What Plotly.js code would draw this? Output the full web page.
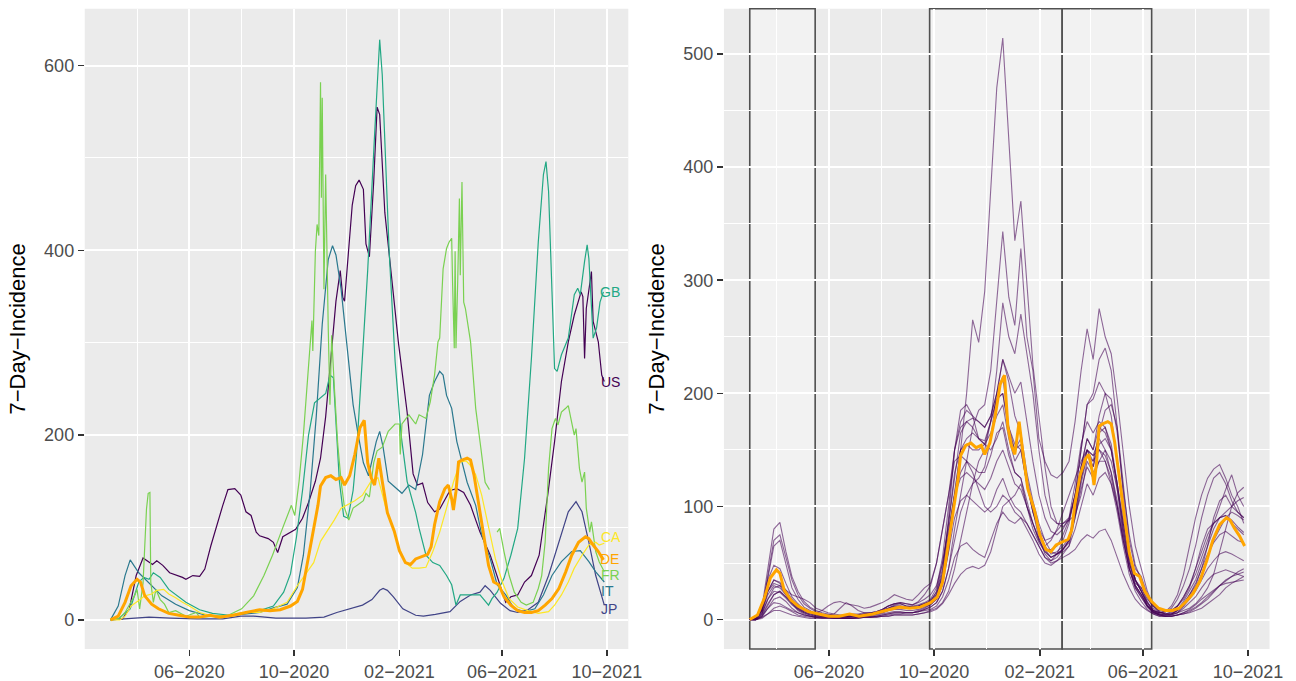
<!DOCTYPE html>
<html>
<head>
<meta charset="utf-8">
<script src="https://cdn.plot.ly/plotly-3.0.1.min.js"></script>
<style>html,body{margin:0;padding:0;background:#fff;}#chart{width:1296px;height:681px;}</style>
</head>
<body>
<div id="chart"></div>
<script>
// ---------- Left panel: G7 countries, [date, 7-day incidence] ----------
const usSeries = [['2020-03-01',0],['2020-03-15',1],['2020-03-23',12],['2020-03-31',48],['2020-04-08',67],['2020-04-13',64],['2020-04-19',60],['2020-04-24',64],['2020-05-01',59],['2020-05-09',51],['2020-05-16',49],['2020-05-24',46],['2020-05-28',44],['2020-06-05',48],['2020-06-13',47],['2020-06-19',55],['2020-06-26',80],['2020-07-04',106],['2020-07-10',124],['2020-07-16',141],['2020-07-24',142],['2020-07-31',135],['2020-08-06',117],['2020-08-12',113],['2020-08-18',95],['2020-08-22',91],['2020-09-01',88],['2020-09-07',84],['2020-09-12',73],['2020-09-18',90],['2020-09-24',93],['2020-10-03',98],['2020-10-11',110],['2020-10-18',127],['2020-10-26',150],['2020-11-01',175],['2020-11-07',220],['2020-11-13',283],['2020-11-19',345],['2020-11-24',378],['2020-11-27',349],['2020-11-29',345],['2020-12-03',391],['2020-12-08',449],['2020-12-12',470],['2020-12-16',476],['2020-12-21',466],['2020-12-24',407],['2020-12-28',393],['2021-01-02',474],['2021-01-06',555],['2021-01-09',547],['2021-01-15',441],['2021-01-23',366],['2021-01-31',299],['2021-02-10',225],['2021-02-17',158],['2021-02-22',146],['2021-02-28',148],['2021-03-06',127],['2021-03-14',117],['2021-03-20',120],['2021-04-01',140],['2021-04-09',142],['2021-04-17',138],['2021-04-25',124],['2021-05-06',95],['2021-05-18',70],['2021-05-30',37],['2021-06-05',19],['2021-06-11',25],['2021-06-19',27],['2021-06-27',41],['2021-07-05',48],['2021-07-14',70],['2021-07-24',135],['2021-08-01',193],['2021-08-09',258],['2021-08-17',301],['2021-08-24',330],['2021-09-01',355],['2021-09-03',350],['2021-09-05',283],['2021-09-07',337],['2021-09-13',377],['2021-09-15',323],['2021-09-21',301],['2021-09-25',265],['2021-09-28',258]];

const jpSeries = [['2020-03-01',0],['2020-03-20',1],['2020-04-15',3],['2020-05-10',2],['2020-06-10',1],['2020-07-10',1],['2020-07-31',4],['2020-08-15',4],['2020-09-10',2],['2020-10-15',2],['2020-11-05',3],['2020-11-20',8],['2020-12-05',12],['2020-12-20',16],['2020-12-31',22],['2021-01-09',32],['2021-01-13',34],['2021-01-18',32],['2021-01-25',25],['2021-02-05',12],['2021-02-20',5],['2021-03-01',4],['2021-03-15',6],['2021-04-01',9],['2021-04-13',20],['2021-04-25',27],['2021-05-06',30],['2021-05-12',37],['2021-05-18',32],['2021-05-30',18],['2021-06-10',10],['2021-06-19',8],['2021-07-01',11],['2021-07-13',19],['2021-07-25',48],['2021-08-06',84],['2021-08-17',117],['2021-08-26',128],['2021-09-02',117],['2021-09-10',84],['2021-09-18',48],['2021-09-28',16]];

const itSeries = [['2020-03-01',0],['2020-03-10',15],['2020-03-18',48],['2020-03-24',65],['2020-04-03',51],['2020-04-14',41],['2020-04-30',26],['2020-05-16',17],['2020-06-01',10],['2020-06-20',5],['2020-07-14',4],['2020-08-01',6],['2020-08-22',8],['2020-09-07',13],['2020-09-23',17],['2020-10-05',35],['2020-10-12',70],['2020-10-20',140],['2020-10-27',220],['2020-11-03',320],['2020-11-10',390],['2020-11-15',405],['2020-11-19',395],['2020-11-25',358],['2020-12-03',287],['2020-12-09',233],['2020-12-15',200],['2020-12-21',170],['2020-12-27',156],['2021-01-01',175],['2021-01-05',193],['2021-01-09',204],['2021-01-13',187],['2021-01-19',150],['2021-01-27',143],['2021-02-04',137],['2021-02-12',146],['2021-02-20',141],['2021-02-28',179],['2021-03-08',243],['2021-03-14',258],['2021-03-20',269],['2021-03-24',265],['2021-03-28',243],['2021-04-03',229],['2021-04-09',193],['2021-04-15',171],['2021-04-21',149],['2021-05-01',124],['2021-05-08',92],['2021-05-18',66],['2021-05-26',38],['2021-06-05',27],['2021-06-15',12],['2021-06-27',9],['2021-07-09',12],['2021-07-19',27],['2021-07-29',48],['2021-08-09',63],['2021-08-21',74],['2021-08-31',75],['2021-09-10',63],['2021-09-18',52],['2021-09-28',41]];

const gbSeries = [['2020-03-01',0],['2020-03-10',1],['2020-03-24',12],['2020-04-03',41],['2020-04-09',46],['2020-04-15',44],['2020-04-20',51],['2020-04-28',46],['2020-05-08',33],['2020-05-18',26],['2020-05-28',19],['2020-06-13',11],['2020-06-28',7],['2020-07-18',5],['2020-08-03',7],['2020-08-22',10],['2020-09-07',15],['2020-09-19',30],['2020-09-27',50],['2020-10-04',90],['2020-10-11',140],['2020-10-18',200],['2020-10-25',235],['2020-11-01',240],['2020-11-07',245],['2020-11-12',265],['2020-11-16',262],['2020-11-23',150],['2020-11-28',112],['2020-12-03',110],['2020-12-09',140],['2020-12-13',180],['2020-12-18',260],['2020-12-22',320],['2020-12-26',378],['2021-01-03',524],['2021-01-07',600],['2021-01-09',628],['2021-01-12',590],['2021-01-15',520],['2021-01-20',400],['2021-01-27',280],['2021-02-03',200],['2021-02-10',150],['2021-02-20',116],['2021-02-24',99],['2021-03-04',70],['2021-03-12',62],['2021-03-20',59],['2021-03-28',48],['2021-04-03',38],['2021-04-08',16],['2021-04-13',27],['2021-04-25',27],['2021-05-06',27],['2021-05-16',16],['2021-05-20',23],['2021-05-26',30],['2021-06-03',45],['2021-06-11',70],['2021-06-19',99],['2021-06-27',175],['2021-07-05',283],['2021-07-13',409],['2021-07-19',482],['2021-07-22',496],['2021-07-25',464],['2021-07-29',355],['2021-08-01',272],['2021-08-04',269],['2021-08-09',287],['2021-08-17',305],['2021-08-24',352],['2021-08-28',359],['2021-08-31',352],['2021-09-05',388],['2021-09-08',406],['2021-09-10',391],['2021-09-13',337],['2021-09-15',305],['2021-09-19',316],['2021-09-23',344],['2021-09-27',355]];

const frSeries = [['2020-03-01',0],['2020-03-12',2],['2020-03-18',8],['2020-03-29',26],['2020-04-01',33],['2020-04-04',12],['2020-04-08',40],['2020-04-12',120],['2020-04-14',137],['2020-04-16',138],['2020-04-17',41],['2020-04-20',19],['2020-04-23',33],['2020-04-28',22],['2020-05-03',17],['2020-05-08',8],['2020-05-16',10],['2020-05-28',4],['2020-06-09',8],['2020-06-13',3],['2020-07-01',4],['2020-07-14',4],['2020-08-01',12],['2020-08-15',26],['2020-08-27',48],['2020-09-06',70],['2020-09-16',95],['2020-09-24',115],['2020-09-28',124],['2020-10-02',113],['2020-10-07',150],['2020-10-12',200],['2020-10-18',274],['2020-10-22',324],['2020-10-23',291],['2020-10-26',399],['2020-10-28',428],['2020-10-30',416],['2020-11-01',582],['2020-11-02',457],['2020-11-03',565],['2020-11-05',358],['2020-11-07',482],['2020-11-09',358],['2020-11-10',316],['2020-11-12',233],['2020-11-14',308],['2020-11-17',254],['2020-11-21',191],['2020-11-25',150],['2020-11-29',121],['2020-12-04',108],['2020-12-09',121],['2020-12-15',125],['2020-12-21',129],['2020-12-24',137],['2020-12-28',133],['2021-01-02',170],['2021-01-06',183],['2021-01-12',187],['2021-01-19',204],['2021-01-27',212],['2021-02-01',212],['2021-02-02',179],['2021-02-04',212],['2021-02-12',222],['2021-02-20',212],['2021-02-24',222],['2021-03-04',218],['2021-03-09',236],['2021-03-14',265],['2021-03-18',301],['2021-03-20',305],['2021-03-24',380],['2021-03-28',402],['2021-03-31',409],['2021-04-03',413],['2021-04-04',366],['2021-04-06',294],['2021-04-07',399],['2021-04-08',294],['2021-04-10',366],['2021-04-12',456],['2021-04-13',373],['2021-04-15',474],['2021-04-17',344],['2021-04-19',337],['2021-04-25',301],['2021-05-01',229],['2021-05-07',186],['2021-05-12',149],['2021-05-17',141],['2021-05-21',null],['2021-05-26',95],['2021-05-29',99],['2021-06-03',74],['2021-06-09',48],['2021-06-15',30],['2021-06-23',19],['2021-06-29',16],['2021-07-07',19],['2021-07-13',34],['2021-07-17',48],['2021-07-21',84],['2021-07-25',164],['2021-07-29',207],['2021-08-02',218],['2021-08-05',211],['2021-08-09',225],['2021-08-14',229],['2021-08-17',232],['2021-08-20',218],['2021-08-24',200],['2021-08-26',207],['2021-08-30',164],['2021-09-02',149],['2021-09-05',160],['2021-09-07',121],['2021-09-11',95],['2021-09-13',106],['2021-09-18',74],['2021-09-22',63],['2021-09-28',52]];

const caSeries = [['2020-03-01',0],['2020-03-12',0],['2020-03-18',4],['2020-03-25',15],['2020-04-03',21],['2020-04-10',26],['2020-04-18',28],['2020-04-24',32],['2020-05-02',33],['2020-05-08',28],['2020-05-16',24],['2020-05-24',19],['2020-06-01',15],['2020-06-13',8],['2020-06-28',4],['2020-07-14',4],['2020-08-01',8],['2020-08-22',8],['2020-09-07',12],['2020-09-23',19],['2020-10-05',37],['2020-10-12',46],['2020-10-24',62],['2020-11-01',85],['2020-11-09',96],['2020-11-17',108],['2020-11-25',121],['2020-12-03',125],['2020-12-11',129],['2020-12-20',135],['2020-12-30',150],['2021-01-07',154],['2021-01-12',135],['2021-01-18',115],['2021-01-23',104],['2021-01-31',79],['2021-02-08',62],['2021-02-16',56],['2021-02-24',56],['2021-03-04',57],['2021-03-12',74],['2021-03-20',95],['2021-03-28',121],['2021-04-05',149],['2021-04-13',171],['2021-04-20',172],['2021-04-25',167],['2021-05-01',157],['2021-05-08',135],['2021-05-16',99],['2021-05-24',66],['2021-06-01',41],['2021-06-09',23],['2021-06-19',14],['2021-07-01',10],['2021-07-13',7],['2021-07-25',9],['2021-08-01',16],['2021-08-09',27],['2021-08-17',41],['2021-08-24',56],['2021-09-02',70],['2021-09-10',81],['2021-09-18',84],['2021-09-22',81],['2021-09-28',83]];

const deSeries = [['2020-03-01',0],['2020-03-10',4],['2020-03-18',19],['2020-03-25',37],['2020-04-01',44],['2020-04-05',41],['2020-04-10',26],['2020-04-18',17],['2020-04-26',12],['2020-05-08',7],['2020-05-20',5],['2020-06-01',3],['2020-06-13',3],['2020-06-21',4],['2020-06-25',5],['2020-07-06',3],['2020-07-22',5],['2020-08-06',8],['2020-08-22',11],['2020-09-03',10],['2020-09-15',11],['2020-09-27',15],['2020-10-05',20],['2020-10-11',33],['2020-10-17',62],['2020-10-23',91],['2020-10-29',124],['2020-11-01',145],['2020-11-07',154],['2020-11-13',156],['2020-11-19',152],['2020-11-25',154],['2020-11-29',146],['2020-12-05',156],['2020-12-11',179],['2020-12-17',208],['2020-12-22',216],['2020-12-26',170],['2020-12-30',154],['2021-01-03',146],['2021-01-06',166],['2021-01-08',175],['2021-01-12',150],['2021-01-18',116],['2021-01-26',96],['2021-02-01',75],['2021-02-08',62],['2021-02-14',60],['2021-02-20',66],['2021-02-28',69],['2021-03-06',71],['2021-03-10',79],['2021-03-14',103],['2021-03-20',128],['2021-03-26',142],['2021-03-30',146],['2021-04-03',131],['2021-04-05',119],['2021-04-08',139],['2021-04-11',171],['2021-04-15',173],['2021-04-21',175],['2021-04-25',173],['2021-04-29',157],['2021-05-04',128],['2021-05-10',92],['2021-05-16',59],['2021-05-22',41],['2021-05-28',38],['2021-06-03',25],['2021-06-11',16],['2021-06-19',10],['2021-06-27',8],['2021-07-05',8],['2021-07-13',10],['2021-07-21',16],['2021-07-29',23],['2021-08-06',34],['2021-08-14',52],['2021-08-21',70],['2021-08-29',84],['2021-09-06',90],['2021-09-10',88],['2021-09-15',81],['2021-09-21',74],['2021-09-27',65]];

const countryNames  = ['US','JP','IT','GB','FR','CA'];
const countryColors = ['#440154','#414487','#2A788E','#22A884','#7AD151','#FDE725'];
const countrySeries = [usSeries, jpSeries, itSeries, gbSeries, frSeries, caSeries];
// small vertical nudges (px) that keep the crowded end labels readable
const labelNudge = {US:0, JP:-4, IT:-9, GB:0, FR:-3, CA:6, DE:1};

// ---------- Right panel: 16 federal states, weekly ----------
const weekDates = ['2020-03-01','2020-03-08','2020-03-15','2020-03-22','2020-03-29','2020-04-05','2020-04-12','2020-04-19','2020-04-26','2020-05-03','2020-05-10','2020-05-17','2020-05-24','2020-05-31','2020-06-07','2020-06-14','2020-06-21','2020-06-28','2020-07-05','2020-07-12','2020-07-19','2020-07-26','2020-08-02','2020-08-09','2020-08-16','2020-08-23','2020-08-30','2020-09-06','2020-09-13','2020-09-20','2020-09-27','2020-10-04','2020-10-11','2020-10-18','2020-10-25','2020-11-01','2020-11-08','2020-11-15','2020-11-22','2020-11-29','2020-12-06','2020-12-13','2020-12-20','2020-12-27','2021-01-03','2021-01-10','2021-01-17','2021-01-24','2021-01-31','2021-02-07','2021-02-14','2021-02-21','2021-02-28','2021-03-07','2021-03-14','2021-03-21','2021-03-28','2021-04-04','2021-04-11','2021-04-18','2021-04-25','2021-05-02','2021-05-09','2021-05-16','2021-05-23','2021-05-30','2021-06-06','2021-06-13','2021-06-20','2021-06-27','2021-07-04','2021-07-11','2021-07-18','2021-07-25','2021-08-01','2021-08-08','2021-08-15','2021-08-22','2021-08-29','2021-09-05','2021-09-12','2021-09-19','2021-09-26'];

const stBY = [0,1,10,45,80,86,60,38,25,16, 11,8,6,5,4,3,3,3,3,4, 4,6,8,10,13,14,12,11,12,14, 17,24,45,85,130,165,175,178,175,170, 180,200,215,170,150,160,125,100,80,62, 55,58,62,68,95,125,150,135,165,185, 190,170,120,70,45,38,22,12,7,5, 5,8,14,22,30,45,65,90,105,110, 100,95,90];
const stBW = [0,1,8,40,70,75,55,35,22,14, 10,7,5,4,3,3,3,4,4,5, 5,6,8,10,12,12,11,11,12,14, 16,22,38,75,115,150,160,165,160,158, 175,195,200,165,150,155,120,95,72,58, 52,55,62,70,100,135,160,150,180,200, 195,165,115,75,48,35,20,10,6,5, 6,9,16,25,35,50,65,80,90,92, 85,80,75];
const stSL = [0,1,8,38,65,70,48,28,18,11, 8,5,3,3,2,2,2,2,3,4, 4,5,6,8,10,11,10,10,11,12, 14,20,40,90,150,185,190,180,160,155, 165,180,190,160,140,150,120,95,80,70, 72,78,85,88,92,110,140,130,140,150, 140,115,80,50,32,28,16,8,5,4, 4,6,12,20,28,40,55,70,80,90, 95,92,88];
const stSN = [0,0,2,10,18,20,16,10,6,4, 3,2,2,2,1,1,1,1,2,2, 2,3,4,5,6,6,6,6,8,10, 13,18,30,60,110,150,200,265,245,290, 380,470,514,420,335,370,300,225,180,135, 100,85,82,88,110,150,190,200,230,240, 220,170,110,60,35,25,12,6,4,3, 3,4,5,7,10,14,18,24,30,35, 38,40,42];
const stTH = [0,0,3,12,22,25,20,14,8,5, 3,2,2,2,1,1,1,1,2,2, 2,3,3,4,5,5,6,6,7,9, 11,15,25,45,80,110,140,170,185,190, 220,280,343,285,260,328,250,220,160,140, 128,125,130,140,175,220,257,230,275,250, 235,195,150,100,65,45,25,12,7,5, 5,6,8,10,14,20,28,40,60,80, 100,112,117];
const stST = [0,0,1,5,10,12,10,7,4,3, 2,2,1,1,1,1,1,1,1,2, 2,2,3,3,4,4,4,4,5,6, 8,10,15,25,45,70,95,120,140,150, 175,220,280,250,235,270,235,200,150,110, 90,85,85,90,110,150,190,195,210,200, 180,140,90,55,35,25,14,7,4,3, 3,4,5,6,8,10,14,18,22,28, 32,35,38];
const stBE = [0,1,8,25,32,30,22,15,11,8, 7,6,8,12,15,16,14,13,12,10, 11,13,15,18,22,20,18,17,22,28, 32,50,80,110,150,175,185,180,175,170, 180,200,230,210,180,165,130,105,85,70, 60,58,60,65,90,120,145,140,150,145, 130,105,75,50,35,28,18,12,8,7, 8,12,18,28,45,65,80,85,90,95, 100,105,108];
const stHH = [0,1,10,35,48,45,32,20,14,9, 6,5,4,3,3,3,3,4,4,5, 6,7,9,12,14,15,14,13,15,18, 22,30,50,80,110,125,130,125,120,115, 125,140,150,135,120,115,100,85,70,62, 62,65,75,88,110,135,150,145,160,150, 130,100,70,45,30,22,12,8,6,7, 8,12,20,30,40,55,70,85,100,115, 128,110,100];
const stHB = [0,0,5,18,28,30,26,22,20,18, 15,10,8,6,5,4,4,5,5,6, 6,7,9,12,14,15,14,13,16,22, 30,50,80,110,140,145,140,130,115,100, 95,100,110,105,95,90,85,75,65,55, 52,58,70,85,110,135,160,150,170,165, 150,120,85,55,35,25,15,8,6,7, 12,22,40,65,90,110,125,133,137,125, 110,100,85];
const stNW = [0,1,8,25,35,33,26,18,12,8, 6,5,4,4,5,10,15,12,8,6, 6,7,9,12,14,14,12,12,13,15, 18,28,55,100,150,170,175,170,160,155, 150,160,175,150,130,125,105,85,70,60, 55,58,62,70,95,125,150,140,165,170, 155,120,85,55,35,25,15,8,6,7, 10,18,30,45,65,90,110,125,130,120, 105,95,90];
const stHE = [0,1,6,22,30,28,22,15,10,7, 5,4,3,3,3,3,3,3,4,5, 5,6,8,10,12,12,11,11,12,14, 16,25,50,85,130,150,155,150,150,155, 175,195,200,170,155,150,120,95,78,65, 58,60,65,72,95,125,145,135,155,160, 150,120,80,50,30,22,12,7,5,5, 7,12,20,30,45,60,75,85,90,92, 88,82,77];
const stRP = [0,1,7,25,35,32,24,16,10,7, 5,4,3,3,3,2,2,3,3,4, 4,5,7,9,11,11,10,10,11,13, 15,22,42,75,110,130,140,135,130,130, 145,165,170,145,130,125,100,80,68,60, 55,58,62,70,90,115,135,125,140,140, 125,100,70,45,30,22,12,7,5,4, 5,8,14,22,32,45,58,68,75,78, 74,70,68];
const stNI = [0,1,5,18,25,24,19,13,9,6, 4,3,3,3,3,3,3,3,3,4, 4,5,6,8,9,9,8,8,9,11, 13,18,35,60,90,105,110,105,100,95, 100,115,125,110,100,95,85,75,65,55, 50,52,58,65,80,100,120,110,125,130, 120,100,70,45,28,20,12,6,4,4, 5,8,12,18,25,35,45,52,58,60, 58,55,52];
const stSH = [0,0,3,10,15,14,11,8,6,4, 3,2,2,2,2,2,2,2,2,3, 3,4,5,6,7,7,6,6,7,8, 9,12,20,35,55,65,68,62,58,55, 70,85,95,88,85,90,80,70,58,50, 48,52,55,58,62,70,75,72,78,80, 70,55,40,28,18,12,8,5,3,3, 4,6,10,15,20,28,35,40,42,44, 42,40,38];
const stMV = [0,0,2,5,8,8,6,4,3,2, 1,1,1,1,1,1,1,1,1,2, 2,2,3,3,4,4,4,4,5,6, 7,9,14,22,32,40,45,47,45,48, 60,80,100,105,110,120,100,85,72,65, 70,80,95,110,125,140,150,145,150,140, 120,95,65,40,25,16,9,5,3,3, 3,4,6,9,13,18,22,26,30,32, 33,34,35];
const stBB = [0,0,4,14,22,25,20,14,9,6, 4,3,2,2,2,2,2,2,2,3, 3,3,4,5,6,6,6,6,7,9, 11,15,25,45,70,95,110,120,125,135, 160,200,230,215,200,210,175,140,110,90, 78,75,80,90,120,155,175,165,175,170, 150,115,75,45,28,20,11,6,4,3, 3,4,6,8,11,15,20,25,30,34, 38,42,45];
const stateSeries = [stBY, stBW, stSL, stSN, stTH, stST, stBE, stHH, stHB, stNW, stHE, stRP, stNI, stSH, stMV, stBB];

// wave periods (shaded boxes in right panel)
const waveStarts = ['2020-03-01','2020-09-26','2021-02-27'];
const waveEnds   = ['2020-05-16','2021-02-27','2021-06-11'];

// axis ticks
const majorTicks = ['2020-06-01','2020-10-01','2021-02-01','2021-06-01','2021-10-01'];
const majorTickText = ['06\u22122020','10\u22122020','02\u22122021','06\u22122021','10\u22122021'];
const minorTicks = ['2020-04-01','2020-08-01','2020-12-01','2021-04-01','2021-08-01'];
const yTitle = '7\u2212Day\u2212Incidence';

// ---------- build ----------
stateSeries.forEach((s,i)=>{ if(s.length!==weekDates.length) throw new Error('state '+i+' length '+s.length); });
const xs = s => s.map(p=>p[0]);
const ys = s => s.map(p=>p[1]);
const FONT = 'Liberation Sans, Arial, Helvetica, sans-serif';

const traces = [];
countrySeries.forEach((s,i)=>{
  traces.push({type:'scatter', mode:'lines', x:xs(s), y:ys(s), xaxis:'x', yaxis:'y',
    line:{color:countryColors[i], width:1.2}, connectgaps:false, hoverinfo:'skip'});
});
traces.push({type:'scatter', mode:'lines', x:xs(deSeries), y:ys(deSeries), xaxis:'x', yaxis:'y',
  line:{color:'#FFA500', width:3}, hoverinfo:'skip'});

stateSeries.forEach(s=>{
  traces.push({type:'scatter', mode:'lines', x:weekDates, y:s, xaxis:'x2', yaxis:'y2',
    line:{color:'rgba(68,1,84,0.58)', width:1.1}, hoverinfo:'skip'});
});
traces.push({type:'scatter', mode:'lines', x:xs(deSeries), y:ys(deSeries), xaxis:'x2', yaxis:'y2',
  line:{color:'#FFA500', width:3}, hoverinfo:'skip'});

const annotations = [];
const labelNames = countryNames.concat(['DE']);
const labelColors = countryColors.concat(['#FFA500']);
countrySeries.concat([deSeries]).forEach((s,i)=>{
  const last = s[s.length-1];
  annotations.push({x:last[0], y:last[1], xref:'x', yref:'y', text:labelNames[i], showarrow:false,
    xanchor:'left', yanchor:'middle', xshift:-4, yshift:labelNudge[labelNames[i]], borderpad:0,
    font:{family:FONT, size:14, color:labelColors[i]}});
});

const shapes = waveStarts.map((s,i)=>({type:'rect', xref:'x2', yref:'paper', x0:s, x1:waveEnds[i], y0:0.047, y1:0.9872,
  fillcolor:'rgba(255,255,255,0.38)', line:{color:'#505050', width:1.6}, layer:'below'}));

function xAxis(domain, anchor){
  return {type:'date', domain:domain, anchor:anchor, range:['2020-01-31','2021-10-26'],
    tickmode:'array', tickvals:majorTicks, ticktext:majorTickText,
    showgrid:true, gridcolor:'#FFFFFF', gridwidth:2,
    minor:{tickmode:'array', tickvals:minorTicks, showgrid:true, gridcolor:'#FFFFFF', gridwidth:1, ticks:''},
    ticks:'outside', ticklen:6, tickwidth:1.6, tickcolor:'#333333',
    tickfont:{family:FONT, size:18, color:'#4D4D4D'}, zeroline:false, showline:false, fixedrange:true};
}
function yAxis(anchor, range, major, minor){
  return {domain:[0.047,0.9872], anchor:anchor, range:range,
    tickmode:'array', tickvals:major, ticktext:major.map(String),
    showgrid:true, gridcolor:'#FFFFFF', gridwidth:2,
    minor:{tickmode:'array', tickvals:minor, showgrid:true, gridcolor:'#FFFFFF', gridwidth:1, ticks:''},
    ticks:'outside', ticklen:6, tickwidth:1.6, tickcolor:'#333333',
    tickfont:{family:FONT, size:18, color:'#4D4D4D'}, zeroline:false, showline:false,
    title:{text:yTitle, font:{family:FONT, size:22, color:'#000000'}, standoff:12}, fixedrange:true};
}

const layout = {
  width:1296, height:681, autosize:false,
  margin:{l:0,r:0,t:0,b:0},
  paper_bgcolor:'#FFFFFF', plot_bgcolor:'#EBEBEB',
  showlegend:false,
  xaxis: xAxis([0.0654,0.4848],'y'),
  xaxis2: xAxis([0.5586,0.9796],'y2'),
  yaxis: yAxis('x',[-31.5,661.5],[0,200,400,600],[100,300,500]),
  yaxis2: yAxis('x2',[-26,540],[0,100,200,300,400,500],[50,150,250,350,450]),
  annotations: annotations,
  shapes: shapes,
  font:{family:FONT}
};

Plotly.newPlot('chart', traces, layout, {displayModeBar:false, staticPlot:true});
</script>
</body>
</html>
